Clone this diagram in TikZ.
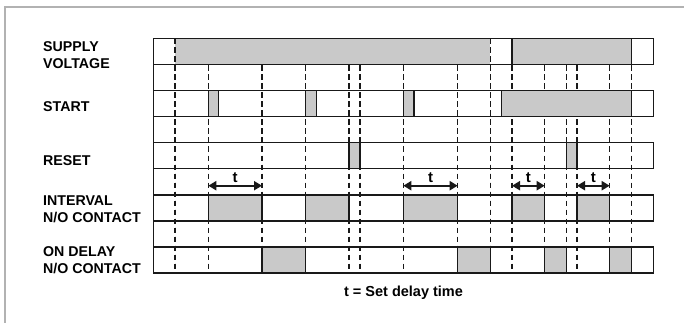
\documentclass[tikz,border=0pt]{standalone}
\usepackage{fontspec}
\setmainfont{Liberation Sans}
\usetikzlibrary{arrows.meta}
\begin{document}
\begin{tikzpicture}[x=1pt,y=-1pt,
  rowline/.style={line width=1.5pt, draw=black!90},
  guide/.style={line width=1.5pt, draw=black!90, dash pattern=on 5.5pt off 3.5pt},
  pulse/.style={fill=black!21, draw=black!90, line width=1.5pt},
  shade/.style={fill=black!21},
  lab/.style={font=\bfseries\fontsize{14.2}{17}\selectfont, anchor=base west, inner sep=0pt},
  tlab/.style={font=\bfseries\fontsize{15}{17}\selectfont, anchor=base, inner sep=0pt},
  tarrow/.style={line width=2.3pt, draw=black!90, {Triangle[length=8pt,width=9pt]}-{Triangle[length=8pt,width=9pt]}},
  frame/.style={line width=2pt, draw=black!30}]
\useasboundingbox (0,0) rectangle (684,323);
% frame
\draw[frame] (5,323) -- (5,7) -- (684,7);
% x positions
\def\L{153.3}\def\R{653.3}
\def\xa{175}\def\sA{208.3}\def\sAe{218.7}\def\tA{262}
\def\sB{305.7}\def\sBe{316.3}\def\rA{349}\def\rAe{360}
\def\sC{403.3}\def\sCe{414}\def\tC{457.7}\def\off{490.3}
\def\sD{501.3}\def\onB{512}\def\tD{544.7}\def\rB{566.3}\def\rBe{577}
\def\tE{609.7}\def\offB{631.3}
% row tops / bottoms
\def\Ta{38.5}\def\Ba{64.5}
\def\Tb{90.7}\def\Bb{116.7}
\def\Tc{142.7}\def\Bc{168.7}
\def\Td{194.8}\def\Bd{220.8}
\def\Te{247}\def\Be{273}
% dashed guide lines
\foreach \x in {\xa,\sA,\tA,\sB,\rA,\rAe,\sC,\tC,\off,\onB,\tD,\rB,\rBe,\tE,\offB}
  \draw[guide] (\x,\Ta) -- (\x,\Be);
% supply voltage
\fill[shade] (\xa,\Ta) rectangle (\off,\Ba);
\draw[pulse] (\onB,\Ta) rectangle (\offB,\Ba);
% start
\draw[pulse] (\sA,\Tb) rectangle (\sAe,\Bb);
\draw[pulse] (\sB,\Tb) rectangle (\sBe,\Bb);
\draw[pulse] (\sC,\Tb) rectangle (\sCe,\Bb);
\draw[pulse] (\sD,\Tb) rectangle (\offB,\Bb);
% reset
\draw[pulse] (\rA,\Tc) rectangle (\rAe,\Bc);
\draw[pulse] (\rB,\Tc) rectangle (\rBe,\Bc);
% interval
\draw[pulse] (\sA,\Td) rectangle (\tA,\Bd);
\draw[pulse] (\sB,\Td) rectangle (\rA,\Bd);
\draw[pulse] (\sC,\Td) rectangle (\tC,\Bd);
\draw[pulse] (\onB,\Td) rectangle (\tD,\Bd);
\draw[pulse] (\rBe,\Td) rectangle (\tE,\Bd);
% on delay
\draw[pulse] (\tA,\Te) rectangle (\sB,\Be);
\draw[pulse] (\tC,\Te) rectangle (\off,\Be);
\draw[pulse] (\tD,\Te) rectangle (\rB,\Be);
\draw[pulse] (\tE,\Te) rectangle (\offB,\Be);
% redraw dashes over the first supply block edges
\draw[guide] (\xa,\Ta) -- (\xa,\Be);
\draw[guide] (\off,\Ta) -- (\off,\Be);
% row outlines
\foreach \t/\b in {\Ta/\Ba,\Tb/\Bb,\Tc/\Bc,\Td/\Bd,\Te/\Be}
  \draw[rowline] (\L,\t) rectangle (\R,\b);
\draw[rowline] (\L,\Ta) -- (\L,\Be);
% delay arrows
\foreach \a/\b in {\sA/\tA,\sC/\tC,\onB/\tD,\rBe/\tE}{
  \draw[tarrow] (\a,185.7) -- (\b,185.7);
  \node[tlab] at ({(\a+\b)/2},182.3) {t};
}
% labels
\node[lab] (supply)  at (43,51.7)  {SUPPLY};
\node[lab] (voltage) at (43,69)    {VOLTAGE};
\node[lab] (start)   at (43,111.7) {START};
\node[lab] (reset)   at (43,165.2) {RESET};
\node[lab] (interval) at (43,205)  {INTERVAL};
\node[lab] (intno)   at (43,222)   {N/O CONTACT};
\node[lab] (ondelay) at (43,256.5) {ON DELAY};
\node[lab] (onno)    at (43,273.5) {N/O CONTACT};
\node[font=\bfseries\fontsize{14.5}{17}\selectfont, anchor=base, inner sep=0pt] (note) at (403.5,296.7) {t = Set delay time};
\end{tikzpicture}
\end{document}
